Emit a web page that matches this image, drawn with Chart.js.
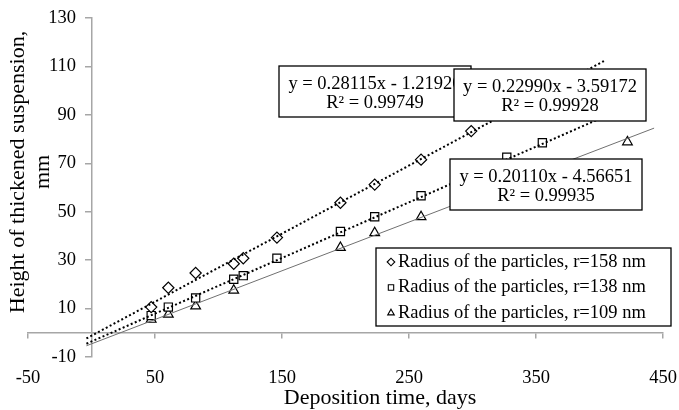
<!DOCTYPE html>
<html>
<head>
<meta charset="utf-8">
<script src="https://cdn.jsdelivr.net/npm/chart.js@4.4.1/dist/chart.umd.min.js"></script>
<style>
  html, body { margin: 0; padding: 0; background: #fff; }
</style>
</head>
<body>
<canvas id="depositionChart" width="679" height="410"></canvas>
<script>
const days158 = [47, 60.5, 82, 112, 119.5, 146, 196, 223, 259.5, 299];
const height158 = [10.6, 18.6, 24.7, 28.5, 30.8, 39.3, 53.7, 61.2, 71.5, 83.3];
const days138 = [47, 60.5, 82, 112, 119.5, 146, 196, 223, 259.5, 327, 355];
const height138 = [7.1, 10.6, 14.4, 22.1, 23.6, 30.8, 41.8, 47.9, 56.6, 72.5, 78.5];
const days109 = [47, 60.5, 82, 112, 196, 223, 259.5, 422];
const height109 = [5.5, 7.6, 11.0, 17.5, 35.2, 41.3, 47.9, 78.8];

const seriesNames = [
    'Radius of the particles, r=158 nm',
    'Radius of the particles, r=138 nm',
    'Radius of the particles, r=109 nm'
];

// linear trendlines as printed on the figure
const slopes = [0.28115, 0.22990, 0.20110];
const intercepts = [-1.21920, -3.59172, -4.56651];
const rSquared = ['0.99749', '0.99928', '0.99935'];
const trendStart = [-4, -4, -4];
const trendEnd = [405, 405, 443];

const xMin = -50, xMax = 450, xStep = 100;
const yMin = -10, yMax = 130, yStep = 20;

const xTitle = 'Deposition time, days';
const yTitle = ['Height of thickened suspension,', 'mm'];

const FONT = 'Liberation Serif, Times New Roman, serif';
const AXIS_GREY = '#a6a6a6';
const markers = ['rectRot', 'rect', 'triangle'];
const markerSize = [5.6, 5.8, 5.6];

function toPoints(xs, ys) {
    return xs.map((x, i) => ({ x: x, y: ys[i] }));
}

function trendPoints(i) {
    return [trendStart[i], trendEnd[i]].map(x => ({ x: x, y: slopes[i] * x + intercepts[i] }));
}

function equationText(i) {
    let sign = intercepts[i] < 0 ? ' - ' : ' + ';
    return 'y = ' + slopes[i].toFixed(5) + 'x' + sign + Math.abs(intercepts[i]).toFixed(5);
}

const seriesX = [days158, days138, days109];
const seriesY = [height158, height138, height109];

let datasets = [];
// trendlines first so they sit on top of the markers, like excel does
for (let i = 0; i < 3; i++) {
    let dotted = i < 2;
    datasets.push({
        label: 'trend ' + i,
        data: trendPoints(i),
        showLine: true,
        pointRadius: 0,
        borderColor: dotted ? '#000' : '#707070',
        borderWidth: dotted ? 2 : 1,
        borderDash: dotted ? [2, 2.4] : [],
        order: 0
    });
}
for (let i = 0; i < 3; i++) {
    datasets.push({
        label: seriesNames[i],
        data: toPoints(seriesX[i], seriesY[i]),
        pointStyle: markers[i],
        pointRadius: markerSize[i],
        pointBackgroundColor: '#fff',
        pointBorderColor: '#000',
        pointBorderWidth: 1.2,
        showLine: false,
        order: 1
    });
}

// text boxes and legend are drawn on top of everything
const equationBoxes = [
    { left: 279, top: 66, width: 192, height: 51 },
    { left: 454, top: 69, width: 192, height: 52 },
    { left: 450, top: 159, width: 192, height: 51 }
];
const legendBox = { left: 376, top: 248, width: 295, height: 78 };

const annotationsPlugin = {
    id: 'annotations',
    afterDraw: function(chart) {
        let ctx = chart.ctx;
        ctx.save();
        ctx.fillStyle = '#000';
        ctx.textBaseline = 'middle';

        // axis titles
        ctx.font = '22px ' + FONT;
        ctx.textAlign = 'center';
        ctx.fillText(xTitle, 380, 398);
        ctx.save();
        ctx.translate(18, 172);
        ctx.rotate(-Math.PI / 2);
        ctx.fillText(yTitle[0], 0, 0);
        ctx.fillText(yTitle[1], 0, 25);
        ctx.restore();

        // equations
        ctx.font = '18.5px ' + FONT;
        equationBoxes.forEach(function(b, i) {
            ctx.fillStyle = '#fff';
            ctx.fillRect(b.left, b.top, b.width, b.height);
            ctx.strokeStyle = '#000';
            ctx.lineWidth = 1.3;
            ctx.strokeRect(b.left, b.top, b.width, b.height);
            ctx.fillStyle = '#000';
            ctx.textAlign = 'center';
            let cx = b.left + b.width / 2;
            ctx.fillText(equationText(i), cx, b.top + 18);
            ctx.fillText('R\u00b2 = ' + rSquared[i], cx, b.top + 37);
        });

        // legend
        let lb = legendBox;
        ctx.fillStyle = '#fff';
        ctx.fillRect(lb.left, lb.top, lb.width, lb.height);
        ctx.strokeStyle = '#000';
        ctx.lineWidth = 1.3;
        ctx.strokeRect(lb.left, lb.top, lb.width, lb.height);
        ctx.textAlign = 'left';
        seriesNames.forEach(function(name, i) {
            let rowY = lb.top + 14 + i * 25.5;
            ctx.fillStyle = '#fff';
            ctx.strokeStyle = '#000';
            ctx.lineWidth = 1.1;
            Chart.helpers.drawPoint(ctx, {
                pointStyle: markers[i],
                radius: 3.8,
                rotation: 0,
                borderWidth: 1.1
            }, 391, rowY);
            ctx.fillStyle = '#000';
            ctx.fillText(name, 398, rowY);
        });
        ctx.restore();
    }
};

const tickFont = { family: FONT, size: 18.5 };

new Chart(document.getElementById('depositionChart').getContext('2d'), {
    type: 'scatter',
    data: { datasets: datasets },
    options: {
        responsive: false,
        animation: false,
        devicePixelRatio: 1,
        layout: { padding: { left: 28, right: 16, top: 18, bottom: 0 } },
        plugins: {
            legend: { display: false },
            tooltip: { enabled: false }
        },
        scales: {
            x: {
                type: 'linear',
                position: { y: 0 },
                min: xMin,
                max: xMax,
                ticks: { stepSize: xStep, display: false },
                grid: { drawOnChartArea: false, tickLength: 5, color: AXIS_GREY, lineWidth: 1.5 },
                border: { color: AXIS_GREY, width: 1.5 }
            },
            xLabels: {
                type: 'linear',
                axis: 'x',
                position: 'bottom',
                min: xMin,
                max: xMax,
                ticks: { stepSize: xStep, font: tickFont, color: '#000', padding: 10, maxRotation: 0, autoSkip: false },
                grid: { display: false, drawTicks: false },
                border: { display: false },
                afterFit: function(scale) {
                    // the layout padding already leaves room for the end labels
                    scale.height = 53;
                    scale.paddingLeft = 0;
                    scale.paddingRight = 0;
                }
            },
            y: {
                type: 'linear',
                position: { x: 0 },
                min: yMin,
                max: yMax,
                ticks: {
                    stepSize: yStep,
                    font: tickFont,
                    color: '#000',
                    // labels of a data-positioned axis sit on the line, push them left
                    callback: function(value) { return value + '   \u200a'; }
                },
                grid: { drawOnChartArea: false, tickLength: 6, color: AXIS_GREY, lineWidth: 1.5 },
                border: { color: AXIS_GREY, width: 1.5 }
            }
        }
    },
    plugins: [annotationsPlugin]
});
</script>
</body>
</html>
